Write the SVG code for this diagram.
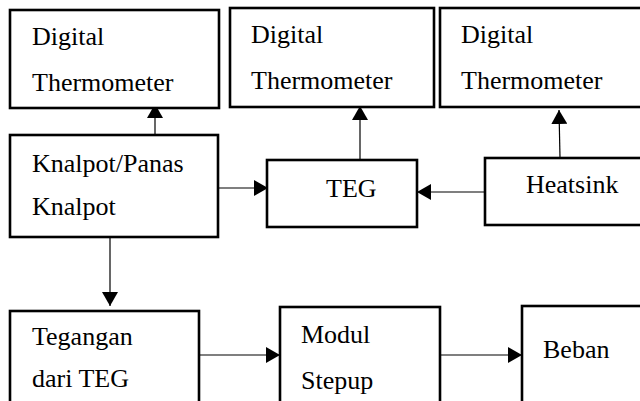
<svg xmlns="http://www.w3.org/2000/svg" width="640" height="401" viewBox="0 0 640 401">
<style>
.box{fill:#fff;stroke:#000;stroke-width:2.6}
.c{stroke:#000;stroke-width:1.2;fill:none;marker-end:url(#ah)}
</style>
<defs>
<marker id="ah" markerUnits="userSpaceOnUse" markerWidth="14" markerHeight="16" refX="14" refY="8" orient="auto" viewBox="0 0 14 16">
<path d="M0,0 L14,8 L0,16 z" fill="#000"/>
</marker>
</defs>
<rect width="640" height="401" fill="#fff"/>
<g id="connectors">
<line class="c" x1="155" y1="135" x2="155" y2="104"/>
<line class="c" x1="360" y1="160" x2="360" y2="106"/>
<line class="c" x1="560" y1="158" x2="559" y2="110"/>
<line class="c" x1="218" y1="188" x2="268" y2="188"/>
<line class="c" x1="485" y1="192" x2="417" y2="192"/>
<line class="c" x1="110" y1="237" x2="110" y2="306"/>
<line class="c" x1="199" y1="355" x2="280" y2="355"/>
<line class="c" x1="441" y1="355" x2="522" y2="355"/>
</g>
<g font-family="'Liberation Serif', 'Times New Roman', serif" font-size="26" fill="#000">
<g id="dt1"><rect class="box" x="10" y="10" width="209" height="98"/>
<text x="32" y="45">Digital</text><text x="32" y="91">Thermometer</text></g>
<g id="dt2"><rect class="box" x="230" y="8" width="204" height="99"/>
<text x="251" y="43">Digital</text><text x="251" y="89">Thermometer</text></g>
<g id="dt3"><rect class="box" x="440" y="8" width="210" height="99"/>
<text x="461" y="43">Digital</text><text x="461" y="89">Thermometer</text></g>
<g id="knalpot"><rect class="box" x="10" y="135" width="208" height="102"/>
<text x="32" y="172">Knalpot/Panas</text><text x="32" y="215">Knalpot</text></g>
<g id="teg"><rect class="box" x="267" y="160" width="150" height="67"/>
<text x="326" y="197">TEG</text></g>
<g id="heatsink"><rect class="box" x="485" y="158" width="165" height="67"/>
<text x="526" y="193">Heatsink</text></g>
<g id="tegangan"><rect class="box" x="10" y="311" width="189" height="100"/>
<text x="32" y="345">Tegangan</text><text x="32" y="387">dari TEG</text></g>
<g id="modul"><rect class="box" x="280" y="307" width="160" height="104"/>
<text x="301" y="343">Modul</text><text x="301" y="389">Stepup</text></g>
<g id="beban"><rect class="box" x="522" y="306" width="128" height="105"/>
<text x="543" y="358">Beban</text></g>
</g>
</svg>
